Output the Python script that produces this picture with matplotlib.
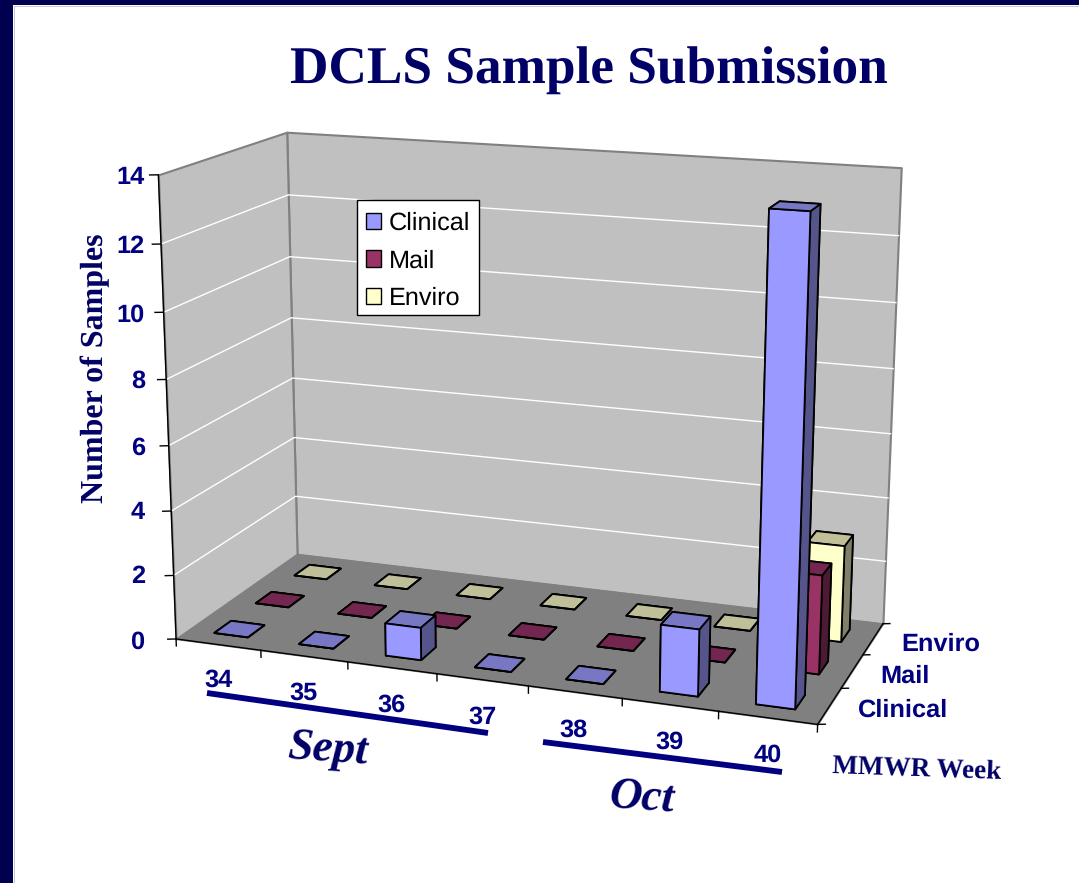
import matplotlib
matplotlib.use("Agg")
import matplotlib.pyplot as plt
from matplotlib.patches import Patch, Rectangle
from matplotlib.lines import Line2D
from mpl_toolkits.mplot3d.art3d import Poly3DCollection

plt.rcParams["text.hinting"] = "none"

W, H = 1079, 883
NAVY = "#000080"

weeks = ["34", "35", "36", "37", "38", "39", "40"]
series = ["Clinical", "Mail", "Enviro"]
clinical = [0, 0, 1, 0, 0, 2, 14]
mail = [0, 0, 0, 0, 0, 0, 3]
enviro = [0, 0, 0, 0, 0, 0, 3]
z_ticks = [0, 2, 4, 6, 8, 10, 12, 14]
face_colors = ["#9999FF", "#993366", "#FFFFCC"]
top_colors = ["#7777C4", "#732650", "#BFBF99"]
side_colors = ["#55558C", "#4D1A33", "#80806A"]


def fx(x):
    return x / W


def fy(y):
    return 1 - y / H


fig = plt.figure(figsize=(W / 100, H / 100), dpi=100, facecolor="white")

# navy slide border
fig.add_artist(Rectangle((0, 0), fx(13), 1, transform=fig.transFigure, color="#000050", lw=0))
fig.add_artist(Rectangle((0, fy(5)), 1, 5 / H, transform=fig.transFigure, color="#000050", lw=0))
fig.add_artist(Line2D([fx(13.5), fx(13.5), 1], [0, fy(5.5), fy(5.5)], color="#B0B0C8", lw=0.5))

# camera worked out from the corners of the box in the reference
ax = fig.add_axes([100.3 / W, 43.3 / H, 842.7 / W, 842.7 / H], projection="3d", computed_zorder=False)
ax.set_xlim(0, 7)
ax.set_ylim(0, 3)
ax.set_zlim(0, 14)
ax.set_axis_off()
ax.patch.set_alpha(0)
ax.view_init(elev=14.989, azim=-70.285, roll=-0.081)
ax.set_proj_type("persp", focal_length=0.544)
ax.set_box_aspect((1, 0.435, 0.715))

# walls and floor
wall = "#C0C0C0"
edge = "#808080"
nx, ny, nz = len(weeks), len(series), z_ticks[-1]
ax.add_collection3d(Poly3DCollection([[(0, ny, 0), (nx, ny, 0), (nx, ny, nz), (0, ny, nz)]],
                                     facecolor=wall, edgecolor=edge, lw=1.5, zorder=1))
ax.add_collection3d(Poly3DCollection([[(0, 0, 0), (0, ny, 0), (0, ny, nz), (0, 0, nz)]],
                                     facecolor=wall, edgecolor=edge, lw=1.5, zorder=1))
ax.add_collection3d(Poly3DCollection([[(0, 0, 0), (nx, 0, 0), (nx, ny, 0), (0, ny, 0)]],
                                     facecolor="#808080", edgecolor=edge, lw=1, zorder=1))
for z in z_ticks[1:-1]:
    ax.plot([0, 0, nx], [0, ny, ny], [z, z, z], color="white", lw=1, zorder=2)

# axis lines and ticks
ax.plot([0, 0], [0, 0], [0, nz], color="black", lw=1, zorder=3)
ax.plot([0, nx, nx], [0, 0, ny], [0, 0, 0], color="black", lw=1, zorder=3)
for z in z_ticks:
    ax.plot([-0.08, 0], [-0.036, 0], [z, z], color="black", lw=1, zorder=3)
for i in range(nx + 1):
    ax.plot([i, i], [0, 0], [0, -0.22], color="black", lw=1, zorder=3)
for i in range(ny + 1):
    ax.plot([nx, nx + 0.07], [i, i + 0.03], [0, 0], color="black", lw=1, zorder=3)

# bars, back row first so the front ones cover them
bar_w = 0.4
rows = [clinical, mail, enviro]
order = 10
for j in [2, 1, 0]:
    for i, v in enumerate(rows[j]):
        cols = [top_colors[j], top_colors[j], face_colors[j], face_colors[j], side_colors[j], side_colors[j]]
        ax.bar3d(i + (1 - bar_w) / 2, j + (1 - bar_w) / 2, 0, bar_w, bar_w, v, color=cols, shade=False,
                 edgecolor="black", linewidth=1.3, zorder=order)
        order += 1

label_font = dict(family="Liberation Sans", weight="bold", color=NAVY, fontsize=18.3, ha="center", va="center")
serif_font = dict(family="Liberation Serif", weight="bold", color="#000066", ha="center", va="center")

fig.text(fx(589), fy(71), "DCLS Sample Submission", fontsize=38.3, **serif_font)
fig.text(fx(95), fy(368), "Number of Samples", fontsize=23, rotation=90, **serif_font)
fig.text(fx(917), fy(770), "MMWR Week", fontsize=19.5, rotation=-2, **serif_font)
fig.text(fx(328), fy(750), "Sept", fontsize=32.5, rotation=-4, style="italic", **serif_font)
fig.text(fx(642), fy(799), "Oct", fontsize=32.5, rotation=-4, style="italic", **serif_font)

z_label_y = [642, 577, 513, 448, 381, 315, 247, 178]
for t, y in zip(z_ticks, z_label_y):
    fig.text(fx(145), fy(y), str(t), **{**label_font, "ha": "right"})
week_x = [219, 304, 392, 483, 574, 670, 768]
week_y = [680, 693, 705, 717, 730, 742, 755]
for t, x, y in zip(weeks, week_x, week_y):
    fig.text(fx(x), fy(y), t, **label_font)
series_x = [903, 905, 941]
series_y = [710, 676, 644]
for t, x, y in zip(series, series_x, series_y):
    fig.text(fx(x), fy(y), t, **label_font)

# month brackets
fig.add_artist(Line2D([fx(207), fx(488)], [fy(693), fy(733)], color=NAVY, lw=4.2, solid_capstyle="butt"))
fig.add_artist(Line2D([fx(543), fx(782)], [fy(742), fy(772)], color=NAVY, lw=4.2, solid_capstyle="butt"))

# legend box is separate because the rows sit low in it
fig.add_artist(Rectangle((fx(357), fy(315)), 122 / W, 115 / H, transform=fig.transFigure,
                         facecolor="white", edgecolor="black", lw=1, zorder=19))
handles = [Patch(facecolor=c, edgecolor="black", lw=1) for c in face_colors]
leg = fig.legend(handles, series, loc="upper left", bbox_to_anchor=(fx(357), fy(203)), frameon=False,
                 prop={"family": "Liberation Sans", "size": 18.2},
                 handlelength=0.6, handleheight=0.6, handletextpad=0.3, labelspacing=0.56, borderpad=0.35, borderaxespad=0)
leg.set_zorder(20)

fig.savefig("out.png", dpi=100)
